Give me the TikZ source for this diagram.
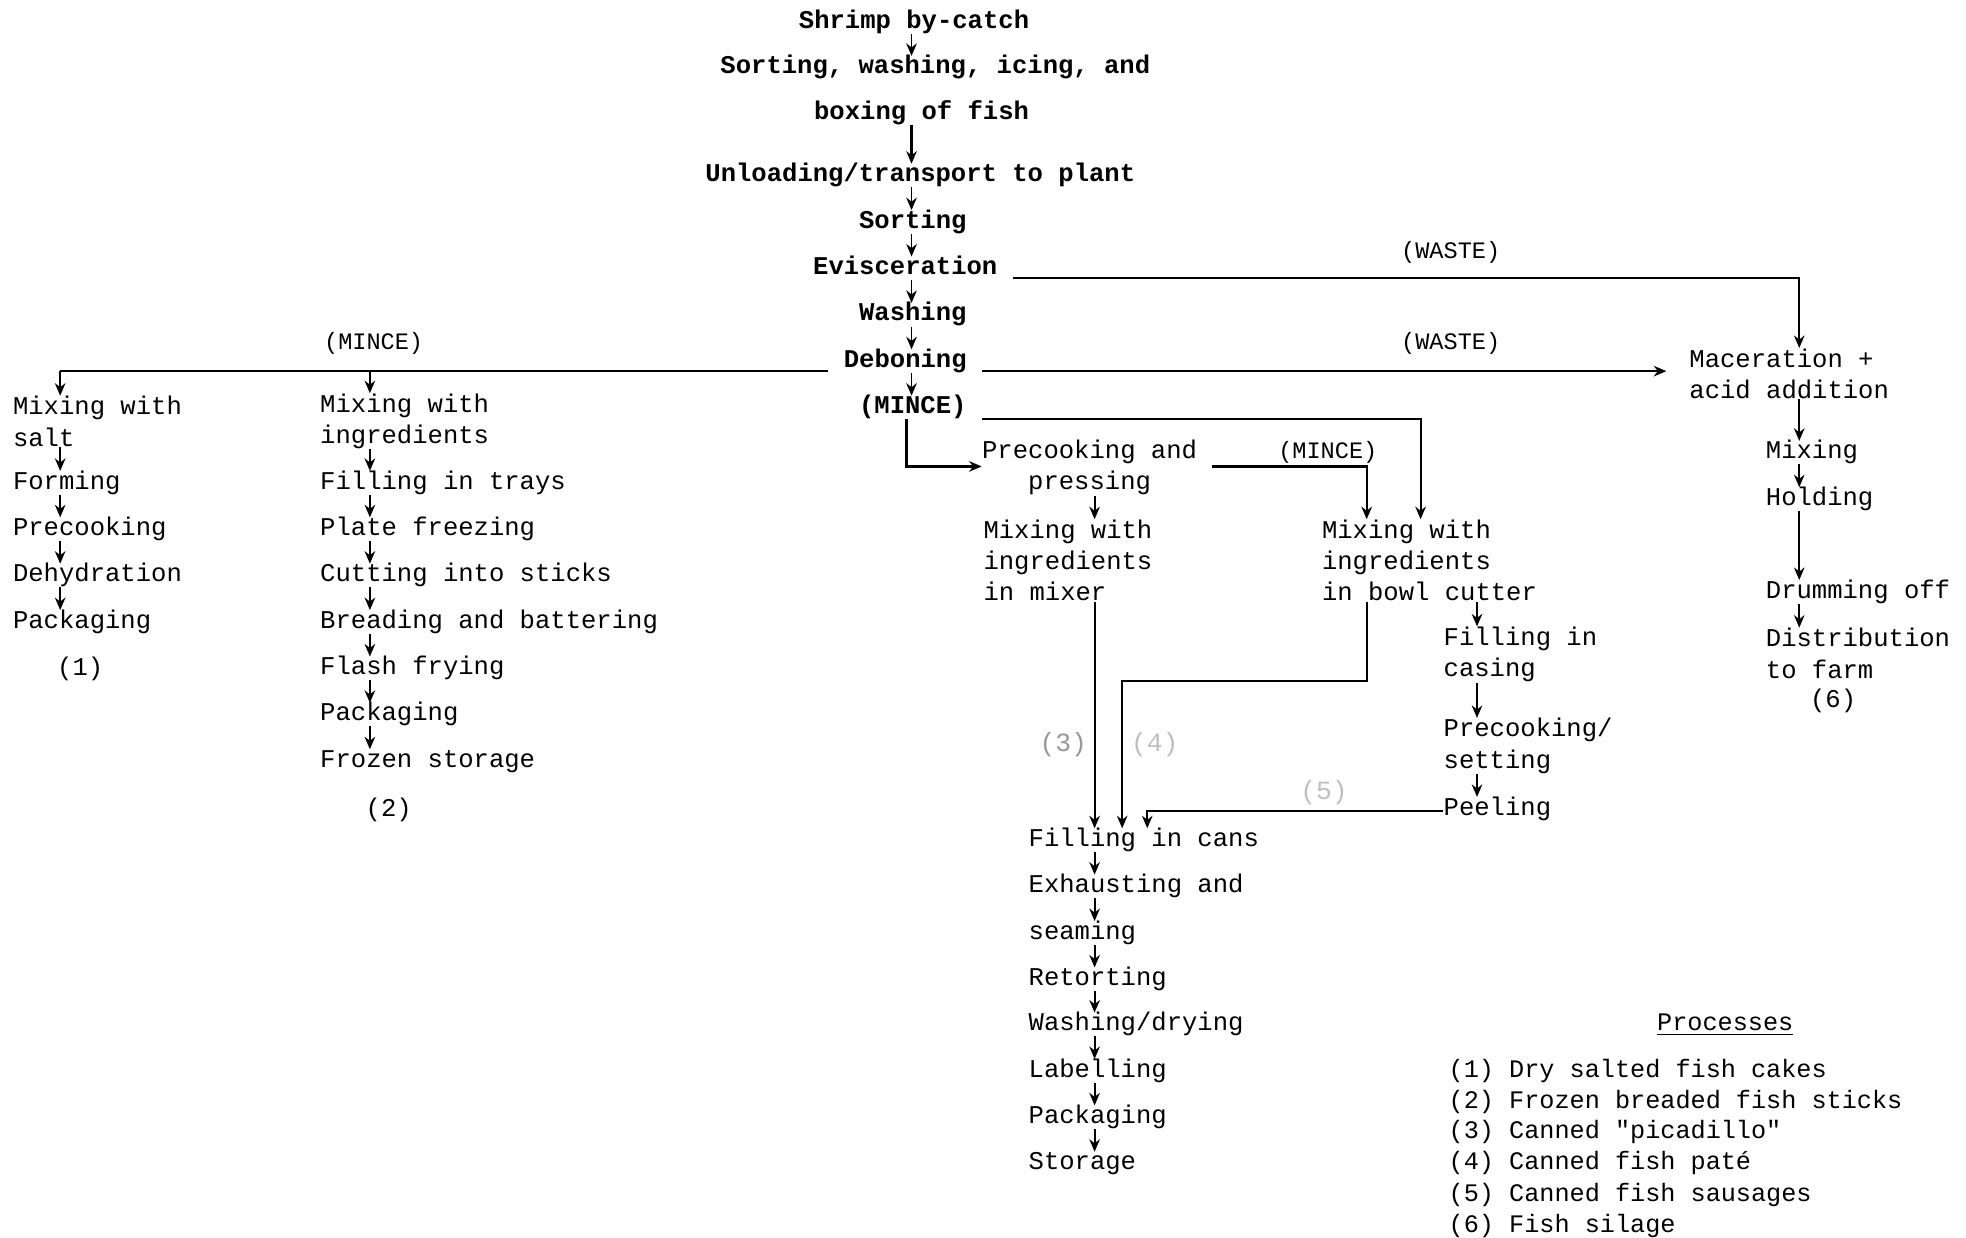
\documentclass[tikz,border=0pt]{standalone}
\usepackage{fontspec}
\newfontfamily\tw{Liberation Mono}
\usetikzlibrary{arrows.meta,calc}
\tikzset{
  txt/.style={font=\tw\fontsize{10.2}{12.5}\selectfont, inner sep=0pt, align=left},
  txtone/.style={txt, text height=7pt, text depth=2pt},
  txtb/.style={txtone, font=\tw\bfseries\fontsize{10.2}{12.5}\selectfont},
  small/.style={txtone, font=\tw\fontsize{9.4}{12}\selectfont},
  legend/.style={txtone, font=\tw\fontsize{10.05}{12}\selectfont},
  faint/.style={txtone, text=black!40, font=\tw\fontsize{10.5}{12}\selectfont},
  arr/.style={line width=0.75pt, -{Stealth[length=5pt,width=4.2pt]}},
  ln/.style={line width=0.85pt},
  lnarr/.style={line width=0.85pt, -{Stealth[length=5pt,width=4.2pt]}},
}
\begin{document}
\begin{tikzpicture}[x=0.5pt,y=-0.5pt]
\useasboundingbox[fill=white] (0,0) rectangle (1568,987);

% ---------- central column ----------
\node[txtb] (c1) at (729,18) {Shrimp by-catch};
\node[txtb] (c2) at (746,54) {Sorting, washing, icing, and};
\node[txtb] (c3) at (735,90) {boxing of fish};
\node[txtb] (c4) at (734,140) {Unloading/transport to plant};
\node[txtb] (c5) at (728,177) {Sorting};
\node[txtb] (c6) at (722,214) {Evisceration};
\node[txtb] (c7) at (728,251) {Washing};
\node[txtb] (c8) at (722,288) {Deboning};
\node[txtb] (c9) at (728,325) {(MINCE)};
\coordinate (cx) at (727,0);
\draw[arr] (c1.south -| cx) -- (c2.north -| cx);
\draw[arr, line width=1.4pt] (c3.south -| cx) -- (c4.north -| cx);
\draw[arr] (c4.south -| cx) -- (c5.north -| cx);
\draw[arr] (c5.south -| cx) -- (c6.north -| cx);
\draw[arr] (c6.south -| cx) -- (c7.north -| cx);
\draw[arr] (c7.south -| cx) -- (c8.north -| cx);
\draw[arr] (c8.south -| cx) -- (c9.north -| cx);

% ---------- left branches ----------
\node[small] (lm) at (298,274) {(MINCE)};
\coordinate (dl) at (660,296);
\coordinate (j1) at (48,296);
\coordinate (j2) at (295,296);
\draw[ln] (dl) -- (j1);

\node[txt, anchor=west] (a1) at (10,336) {Mixing with\\salt};
\node[txtone, anchor=west] (a2) at (10,385) {Forming};
\node[txtone, anchor=west] (a3) at (10,422) {Precooking};
\node[txtone, anchor=west] (a4) at (10,459) {Dehydration};
\node[txtone, anchor=west] (a5) at (10,496) {Packaging};
\node[txtone] (a6) at (64,534) {(1)};
\draw[arr] (j1) -- (a1.north -| j1);
\draw[arr] (a1.south -| j1) -- (a2.north -| j1);
\draw[arr] (a2.south -| j1) -- (a3.north -| j1);
\draw[arr] (a3.south -| j1) -- (a4.north -| j1);
\draw[arr] (a4.south -| j1) -- (a5.north -| j1);

\node[txt, anchor=west] (b1) at (255,336) {Mixing with\\ingredients};
\node[txtone, anchor=west] (b2) at (255,385) {Filling in trays};
\node[txtone, anchor=west] (b3) at (255,422) {Plate freezing};
\node[txtone, anchor=west] (b4) at (255,459) {Cutting into sticks};
\node[txtone, anchor=west] (b5) at (255,496) {Breading and battering};
\node[txtone, anchor=west] (b6) at (255,533) {Flash frying};
\node[txtone, anchor=west] (b7) at (255,570) {Packaging};
\node[txtone, anchor=west] (b8) at (255,607) {Frozen storage};
\node[txtone] (b9) at (310,646) {(2)};
\draw[arr] (j2) -- (b1.north -| j2);
\draw[arr] (b1.south -| j2) -- (b2.north -| j2);
\draw[arr] (b2.south -| j2) -- (b3.north -| j2);
\draw[arr] (b3.south -| j2) -- (b4.north -| j2);
\draw[arr] (b4.south -| j2) -- (b5.north -| j2);
\draw[arr] (b5.south -| j2) -- (b6.north -| j2);
\draw[arr] (b6.south -| j2) -- (b7.north -| j2);
\draw[arr] (b7.south -| j2) -- (b8.north -| j2);

% ---------- waste / silage ----------
\node[small] (w1) at (1157,201) {(WASTE)};
\node[small] (w2) at (1157,274) {(WASTE)};
\node[txt, anchor=west] (r1) at (1347,298) {Maceration +\\acid addition};
\node[txtone, anchor=west] (r2) at (1408,361) {Mixing};
\node[txtone, anchor=west] (r3) at (1408,398) {Holding};
\node[txtone, anchor=west] (r4) at (1408,472) {Drumming off};
\node[txt, anchor=west] (r5) at (1408,521) {Distribution\\to farm};
\node[txtone] (r6) at (1462,559) {(6)};
\coordinate (rx) at (1435,0);
\coordinate (e1) at (808,222);
\coordinate (e2) at (1435,222);
\coordinate (d2) at (783,296);
\draw[lnarr] (e1) -- (e2) -- (r1.north -| e2);
\draw[lnarr, shorten >=9] (d2) -- (d2 -| r1.west);
\draw[arr] (r1.south -| rx) -- (r2.north -| rx);
\draw[arr] (r2.south -| rx) -- (r3.north -| rx);
\draw[arr] (r3.south -| rx) -- (r4.north -| rx);
\draw[arr] (r4.south -| rx) -- (r5.north -| rx);

% ---------- canning branch ----------
\node[txt, align=center] (p1) at (869,373) {Precooking and\\pressing};
\node[small] (pm) at (1059,361) {(MINCE)};
\node[txt, anchor=west] (q1) at (784,447) {Mixing with\\ingredients\\in mixer};
\node[txt, anchor=west] (q2) at (1054,447) {Mixing with\\ingredients\\in bowl cutter};
\node[txt, anchor=west] (s1) at (1151,522) {Filling in\\casing};
\node[txt, anchor=west] (s2) at (1151,595) {Precooking/\\setting};
\node[txtone, anchor=west] (s3) at (1151,645) {Peeling};

\coordinate (k1) at (723,372);
\coordinate (k2) at (783,334);
\coordinate (k3) at (1133,334);
\coordinate (k4) at (967,372);
\coordinate (k5) at (1090,372);
\coordinate (k6) at (1090,543);
\coordinate (k7) at (895,543);
\coordinate (k8) at (915,647);
\coordinate (mx) at (873,0);
\coordinate (sx) at (1178,0);

\draw[lnarr] (c9.south -| k1) -- (k1) -- (k1 -| p1.west);
\draw[lnarr] (k2) -- (k3) -- (k3 |- q2.north);
\draw[lnarr] (k4) -- (k5) -- (k5 |- q2.north);
\draw[arr] (p1.south -| mx) -- (q1.north -| mx);
\draw[arr] (q2.south -| sx) -- (s1.north -| sx);
\draw[arr] (s1.south -| sx) -- (s2.north -| sx);
\draw[arr] (s2.south -| sx) -- (s3.north -| sx);

\node[txtone, anchor=west] (f1) at (820,670) {Filling in cans};
\node[txtone, anchor=west] (f2) at (820,707) {Exhausting and};
\node[txtone, anchor=west] (f3) at (820,744) {seaming};
\node[txtone, anchor=west] (f4) at (820,781) {Retorting};
\node[txtone, anchor=west] (f5) at (820,817) {Washing/drying};
\node[txtone, anchor=west] (f6) at (820,854) {Labelling};
\node[txtone, anchor=west] (f7) at (820,891) {Packaging};
\node[txtone, anchor=west] (f8) at (820,928) {Storage};

\draw[arr] (q1.south -| mx) -- (f1.north -| mx);
\draw[lnarr] (q2.south -| k6) -- (k6) -- (k7) -- (k7 |- f1.north);
\draw[lnarr] (s3.west |- k8) -- (k8) -- (k8 |- f1.north);
\node[faint] (n3) at (848,594) {(3)};
\node[faint, text=black!25] (n4) at (921,594) {(4)};
\node[faint, text=black!25] (n5) at (1056,633) {(5)};

\draw[arr] (f1.south -| mx) -- (f2.north -| mx);
\draw[arr] (f2.south -| mx) -- (f3.north -| mx);
\draw[arr] (f3.south -| mx) -- (f4.north -| mx);
\draw[arr] (f4.south -| mx) -- (f5.north -| mx);
\draw[arr] (f5.south -| mx) -- (f6.north -| mx);
\draw[arr] (f6.south -| mx) -- (f7.north -| mx);
\draw[arr] (f7.south -| mx) -- (f8.north -| mx);

% ---------- legend ----------
\node[legend] (lg) at (1376,817) {\underline{Processes}};
\node[legend, anchor=west] (g1) at (1155,854) {(1) Dry salted fish cakes};
\node[legend, anchor=west] (g2) at (1155,879) {(2) Frozen breaded fish sticks};
\node[legend, anchor=west] (g3) at (1155,903) {(3) Canned "picadillo"};
\node[legend, anchor=west] (g4) at (1155,928) {(4) Canned fish paté};
\node[legend, anchor=west] (g5) at (1155,953) {(5) Canned fish sausages};
\node[legend, anchor=west] (g6) at (1155,978) {(6) Fish silage};
\end{tikzpicture}
\end{document}
